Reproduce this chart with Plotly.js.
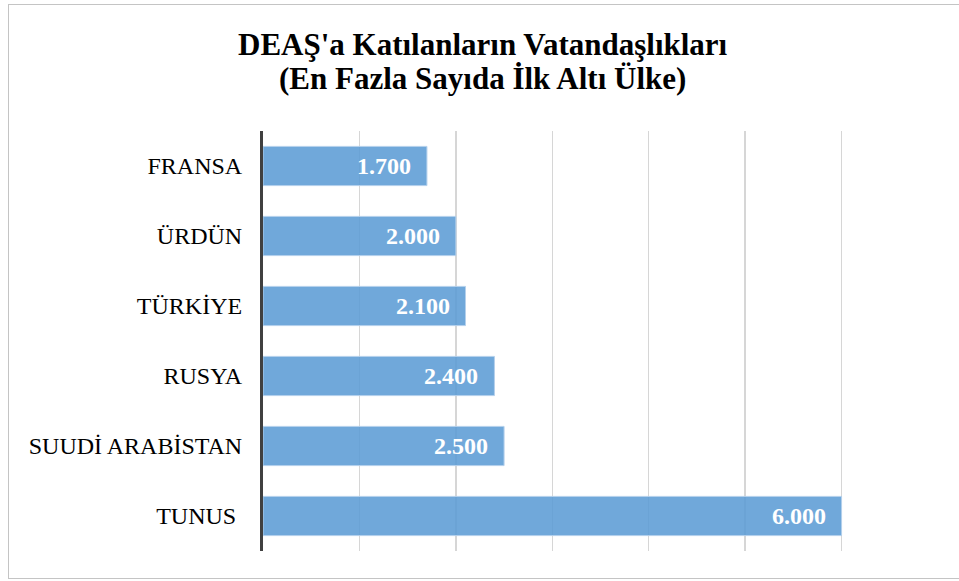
<!DOCTYPE html>
<html>
<head>
<meta charset="utf-8">
<script src="https://cdn.plot.ly/plotly-3.0.1.min.js"></script>
<style>
  html, body { margin: 0; padding: 0; background: #fff; overflow: hidden; }
  #frame { position: absolute; left: 8px; top: 4px; width: 960px; height: 575px; border: 1.5px solid #c4c4c4; box-sizing: border-box; }
  #chart { position: absolute; left: 0; top: 0; width: 959px; height: 581px; }
</style>
</head>
<body>
<div id="frame"></div>
<div id="chart"></div>
<script>
const categories = ["FRANSA", "ÜRDÜN", "TÜRKİYE", "RUSYA", "SUUDİ ARABİSTAN", "TUNUS"];
const values = [1700, 2000, 2100, 2400, 2500, 6000];
const tickLabels = ["FRANSA", "ÜRDÜN", "TÜRKİYE", "RUSYA", "SUUDİ ARABİSTAN", "TUNUS\u00a0"];
const titleLines = ["DEAŞ'a Katılanların Vatandaşlıkları", "(En Fazla Sayıda İlk Altı Ülke)"];

const SERIF = "Liberation Serif";
const fmt = v => v.toLocaleString("de-DE");

const trace = {
  type: "bar",
  orientation: "h",
  x: values,
  y: categories,
  width: 0.56,
  marker: { color: "rgba(91,155,213,0.87)", line: { color: "#b4d0ec", width: 1 } },
  hoverinfo: "none"
};

const annotations = values.map((v, i) => ({
  x: v, y: categories[i], xref: "x", yref: "y",
  text: "<b>" + fmt(v) + "</b>",
  showarrow: false, xanchor: "right", yanchor: "middle", xshift: -14,
  font: { family: SERIF, size: 24, color: "#ffffff" }
}));

const titleY = [1.2071, 1.1245];
titleLines.forEach((t, i) => annotations.push({
  x: 0.3252, y: titleY[i], xref: "paper", yref: "paper",
  xanchor: "center", yanchor: "middle", showarrow: false,
  text: "<b>" + t + "</b>",
  font: { family: SERIF, size: 31, color: "#000000" }
}));

const layout = {
  width: 959, height: 581,
  margin: { l: 263, r: 21, t: 131, b: 30 },
  paper_bgcolor: "rgba(0,0,0,0)",
  plot_bgcolor: "rgba(0,0,0,0)",
  showlegend: false,
  font: { family: SERIF },
  xaxis: {
    range: [0, 7000], dtick: 1000, tick0: 0,
    showticklabels: false, showgrid: true, gridcolor: "#d6d6d6", gridwidth: 1.3,
    zeroline: false, showline: false, fixedrange: true
  },
  yaxis: {
    type: "category", categoryorder: "array", categoryarray: categories,
    tickmode: "array", tickvals: categories, ticktext: tickLabels,
    autorange: "reversed",
    showline: true, linecolor: "#404040", linewidth: 3,
    showgrid: false, zeroline: false,
    ticks: "outside", ticklen: 13, tickcolor: "rgba(0,0,0,0)",
    tickfont: { family: SERIF, size: 24, color: "#000000" },
    fixedrange: true
  },
  annotations: annotations
};

Plotly.newPlot("chart", [trace], layout, { displayModeBar: false, staticPlot: true });
</script>
</body>
</html>
